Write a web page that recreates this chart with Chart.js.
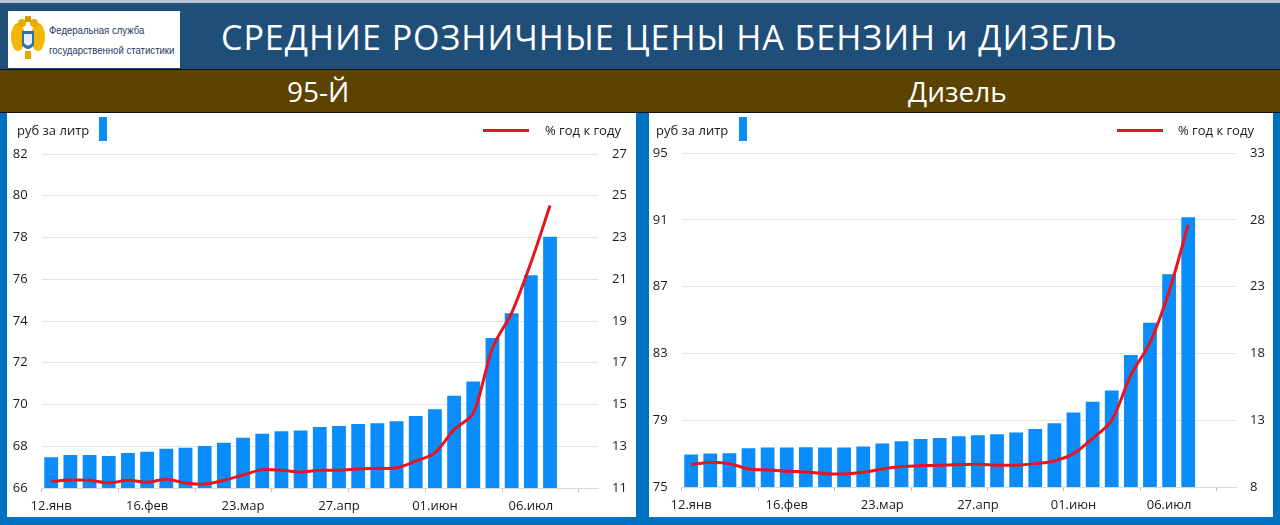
<!DOCTYPE html>
<html>
<head>
<meta charset="utf-8">
<script src="https://cdn.jsdelivr.net/npm/chart.js@4"></script>
<style>
  body { margin:0; width:1280px; height:525px; overflow:hidden; background:#0070c0; font-family:"Open Sans", sans-serif; position:relative; }
  #header { position:absolute; left:0; top:0; width:1280px; height:69px; background:#1f4e79; border-top:3px solid #b8c4d2; box-sizing:border-box; }
  #logo { position:absolute; left:8px; top:8px; width:172px; height:57px; background:#fff; }
  #logo svg { position:absolute; left:2px; top:4px; }
  #logo .t { position:absolute; left:41px; font-family:"Liberation Sans",sans-serif; font-size:11px; color:#1f3864; white-space:nowrap; transform:scaleX(0.87); transform-origin:0 0; }
  #title { position:absolute; left:221px; top:11px; color:#fff; font-size:34px; letter-spacing:1px; white-space:nowrap; }
  #band { position:absolute; left:0; top:69px; width:1280px; height:44px; background:#5c4300; border-top:1px solid #111; border-bottom:1px solid #111; box-sizing:border-box; }
  .sub { position:absolute; top:72px; color:#fff; font-size:28px; }
  .panel { position:absolute; top:113px; height:404px; background:#fff; }
  .panel canvas { position:absolute; left:0; top:0; }
  .lg { position:absolute; top:121px; font-size:13px; color:#1a1a1a; white-space:nowrap; }
  .sw { position:absolute; top:117px; width:8px; height:24px; background:#0a8cfa; }
  .ln { position:absolute; top:129px; width:46px; height:3px; background:#e8141e; }
</style>
</head>
<body>
<div id="header">
  <div id="logo">
    <svg width="36" height="46" viewBox="0 0 36 46">
      <ellipse cx="8" cy="22" rx="7" ry="14" fill="#f2b705"/>
      <ellipse cx="28" cy="22" rx="7" ry="14" fill="#f2b705"/>
      <circle cx="12" cy="8" r="4" fill="#e8a800"/>
      <circle cx="24" cy="8" r="4" fill="#e8a800"/>
      <rect x="15" y="1" width="6" height="6" fill="#d79c00"/>
      <path d="M12 16 L24 16 L24 30 Q18 38 12 30 Z" fill="#2f6fb0"/>
      <path d="M14 19 L22 19 L22 28 Q18 33 14 28 Z" fill="#e8eef6"/>
      <rect x="15" y="36" width="6" height="8" fill="#e8a800"/>
    </svg>
    <div class="t" style="top:13px">Федеральная служба</div>
    <div class="t" style="top:33px">государственной статистики</div>
  </div>
  <div id="title">СРЕДНИЕ РОЗНИЧНЫЕ ЦЕНЫ НА БЕНЗИН и ДИЗЕЛЬ</div>
</div>
<div id="band"></div>
<div class="sub" style="left:287px">95-Й</div>
<div class="sub" style="left:908px">Дизель</div>

<div class="panel" style="left:7px;width:629px"><canvas id="petrol" width="629" height="404"></canvas></div>
<div class="panel" style="left:649px;width:624px"><canvas id="diesel" width="624" height="404"></canvas></div>

<div class="lg" style="left:17px">руб за литр</div>
<div class="sw" style="left:99px"></div>
<div class="ln" style="left:483px"></div>
<div class="lg" style="left:545px">% год к году</div>

<div class="lg" style="left:656px">руб за литр</div>
<div class="sw" style="left:739px"></div>
<div class="ln" style="left:1117px"></div>
<div class="lg" style="left:1178px">% год к году</div>

<script>
const weeks = ['12.янв','19.янв','26.янв','02.фев','09.фев','16.фев','23.фев','02.мар','09.мар','16.мар',
  '23.мар','30.мар','06.апр','13.апр','20.апр','27.апр','04.май','11.май','18.май','25.май',
  '01.июн','08.июн','15.июн','22.июн','29.июн','06.июл','13.июл','20.июл','27.июл'];

// 95-Й
const petrolPrice = [67.47,67.58,67.58,67.53,67.68,67.74,67.88,67.93,68.01,68.17,
  68.41,68.60,68.72,68.76,68.92,68.97,69.07,69.10,69.20,69.45,
  69.77,70.42,71.10,73.19,74.37,76.19,78.04];
const petrolYoY = [11.32,11.38,11.37,11.24,11.37,11.27,11.42,11.24,11.19,11.37,
  11.62,11.88,11.85,11.77,11.85,11.85,11.91,11.94,11.97,12.29,
  12.68,13.80,14.59,17.71,19.39,21.78,24.53];
const petrolPriceTicks = [66, 82, 2];
const petrolYoYTicks = [11, 27, 2];

// Дизель
const dieselPrice = [76.94,77.00,77.02,77.32,77.36,77.36,77.38,77.36,77.36,77.42,
  77.60,77.74,77.88,77.94,78.04,78.10,78.16,78.26,78.48,78.82,
  79.46,80.10,80.78,82.90,84.84,87.74,91.16];
const dieselYoY = [9.70,9.83,9.75,9.35,9.28,9.18,9.13,9.00,8.98,9.10,
  9.35,9.53,9.60,9.63,9.68,9.70,9.63,9.63,9.75,9.95,
  10.50,11.63,13.00,16.38,18.80,22.63,27.63];
const dieselPriceTicks = [75, 95, 4];
const dieselYoYTicks = [8, 33, 5];

const tickFont = { family: 'Open Sans', size: 13 };
const tickColor = '#1a1a1a';

function makeChart(id, prices, yoy, leftTicks, rightTicks, geo) {
  const ctx = document.getElementById(id).getContext('2d');
  return new Chart(ctx, {
    type: 'bar',
    data: {
      labels: weeks,
      datasets: [{
        type: 'line',
        data: yoy,
        yAxisID: 'y2',
        borderColor: '#e8141e',
        borderWidth: 3,
        pointRadius: 0,
        tension: 0.3,
        order: 0
      }, {
        data: prices,
        yAxisID: 'y',
        backgroundColor: '#0a8cfa',
        categoryPercentage: 1,
        barPercentage: 0.72,
        order: 1
      }]
    },
    options: {
      responsive: false,
      animation: false,
      layout: { padding: { left: 0, right: geo.padRight, top: geo.top, bottom: 0 } },
      plugins: { legend: { display: false }, tooltip: { enabled: false } },
      scales: {
        x: {
          afterFit: s => { s.height = geo.xHeight; },
          grid: {
            drawOnChartArea: false,
            tickLength: 4,
            color: c => c.index % 4 === 0 ? '#bfbfbf' : 'rgba(0,0,0,0)'
          },
          border: { display: true, color: '#d9d9d9' },
          ticks: {
            autoSkip: false, maxRotation: 0, padding: 6,
            font: tickFont, color: tickColor,
            callback: function (v, i) { return i % 5 === 0 ? this.getLabelForValue(v) : ''; }
          }
        },
        y: {
          position: 'left',
          min: leftTicks[0], max: leftTicks[1],
          afterFit: s => { s.width = geo.leftWidth; },
          grid: { color: '#e3e3e3', drawTicks: false },
          border: { display: false },
          ticks: { stepSize: leftTicks[2], padding: 14, font: tickFont, color: tickColor }
        },
        y2: {
          position: 'right',
          min: rightTicks[0], max: rightTicks[1],
          afterFit: s => { s.width = 32; },
          grid: { display: false, drawTicks: false },
          border: { display: false },
          ticks: { stepSize: rightTicks[2], padding: 14, font: tickFont, color: tickColor }
        }
      }
    }
  });
}

window.onload = function () {
  makeChart('petrol', petrolPrice, petrolYoY, petrolPriceTicks, petrolYoYTicks,
    { leftWidth: 34.6, padRight: 629 - 591 - 32, top: 41, xHeight: 29 });
  makeChart('diesel', dieselPrice, dieselYoY, dieselPriceTicks, dieselYoYTicks,
    { leftWidth: 32.6, padRight: 624 - 587 - 32, top: 40, xHeight: 30 });
};
</script>
</body>
</html>
